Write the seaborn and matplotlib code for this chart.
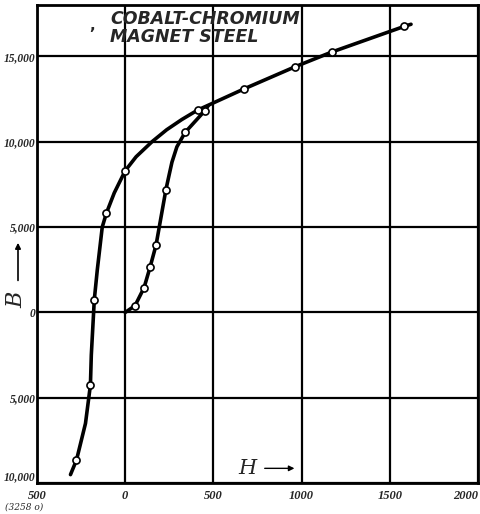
import matplotlib
matplotlib.use("Agg")
import matplotlib.pyplot as plt
from matplotlib.patches import FancyArrowPatch
import seaborn as sns
import pandas as pd

# Descending (demagnetising) branch: traced curve, from saturation down
desc_H = [1620, 1580, 1170, 965, 675, 410, 321, 235, 152, 62, 0, -62, -107, -130, -158, -175, -192, -197, -225, -276, -310]
desc_B = [16880, 16750, 15250, 14400, 13100, 11850, 11300, 10700, 10000, 9120, 8300, 7000, 5800, 5000, 2500, 750, -2500, -4250, -6500, -8650, -9500]

# Initial magnetisation curve, from the origin up to where it meets the loop
init_H = [0, 56, 107, 141, 175, 231, 250, 265, 293, 340, 450, 470]
init_B = [0, 400, 1450, 2650, 3950, 7200, 8100, 8800, 9700, 10550, 11800, 12100]

# Observed points (open circles)
obs_desc_H = [1580, 1170, 965, 675, 410, 0, -107, -175, -197, -276]
obs_desc_B = [16750, 15250, 14400, 13100, 11850, 8300, 5800, 750, -4250, -8650]
obs_init_H = [56, 107, 141, 175, 231, 340, 450]
obs_init_B = [400, 1450, 2650, 3950, 7200, 10550, 11800]

x_ticks = [-500, 0, 500, 1000, 1500, 2000]
x_tick_labels = ["500", "0", "500", "1000", "1500", "2000"]
y_ticks = [-10000, -5000, 0, 5000, 10000, 15000]
y_tick_labels = ["10,000", "5,000", "0", "5,000", "10,000", "15,000"]

sns.set_style("white")

fig = plt.figure(figsize=(4.8, 5.14), dpi=100)
ax = fig.add_axes([0.077, 0.060, 0.919, 0.930])

desc = pd.DataFrame({"H": desc_H, "B": desc_B})
init = pd.DataFrame({"H": init_H, "B": init_B})
obs = pd.DataFrame({"H": obs_desc_H + obs_init_H, "B": obs_desc_B + obs_init_B})

for x in x_ticks:
    ax.axvline(x, color="black", lw=1.6, zorder=1)
for y in y_ticks:
    ax.axhline(y, color="black", lw=1.6, zorder=1)

sns.lineplot(data=desc, x="H", y="B", sort=False, estimator=None, color="black", lw=2.6, ax=ax, zorder=3)
sns.lineplot(data=init, x="H", y="B", sort=False, estimator=None, color="black", lw=2.6, ax=ax, zorder=3)
sns.scatterplot(data=obs, x="H", y="B", marker="o", s=26, facecolor="white", edgecolor="black", linewidth=1.2, ax=ax, zorder=4)

ax.set_xlim(-500, 2000)
ax.set_ylim(-10000, 18000)
ax.set_xticks(x_ticks)
ax.set_xticklabels(x_tick_labels, fontfamily="Liberation Serif", fontstyle="italic", fontweight="bold", fontsize=9)
ax.get_xticklabels()[-1].set_horizontalalignment("right")
ax.set_yticks(y_ticks)
ax.set_yticklabels(y_tick_labels, fontfamily="Liberation Serif", fontstyle="italic", fontweight="bold", fontsize=8.3)
ax.get_yticklabels()[0].set_verticalalignment("bottom")
ax.tick_params(axis="x", length=0, pad=5)
ax.tick_params(axis="y", length=0, pad=1)
ax.set_xlabel("")
ax.set_ylabel("")
for s in ax.spines.values():
    s.set_visible(True)
    s.set_color("black")
    s.set_linewidth(2.0)

ax.text(0.166, 0.99, "COBALT-CHROMIUM\nMAGNET STEEL", transform=ax.transAxes, ha="left", va="top",
        fontsize=12.5, fontweight="bold", fontstyle="oblique", fontfamily="DejaVu Sans", linespacing=1.0)
ax.text(0.125, 0.958, ",", transform=ax.transAxes, ha="center", va="center", fontsize=11, fontweight="bold")

ax.text(0.478, 0.031, "H", transform=ax.transAxes, ha="center", va="center",
        fontsize=15, fontstyle="italic", fontfamily="DejaVu Serif")
ax.annotate("", xy=(0.59, 0.031), xytext=(0.51, 0.031), xycoords="axes fraction",
            arrowprops=dict(arrowstyle="-|>", color="black", lw=1.0, mutation_scale=8))

fig.text(0.035, 0.416, "B", rotation=90, ha="center", va="center",
         fontsize=16, fontstyle="italic", fontfamily="DejaVu Serif")
fig.add_artist(FancyArrowPatch((0.0375, 0.449), (0.0375, 0.533), transform=fig.transFigure,
                               arrowstyle="-|>", color="black", lw=1.2, mutation_scale=8))

fig.text(0.01, 0.004, "(3258 o)", ha="left", va="bottom", fontsize=6.5, fontstyle="italic", fontfamily="DejaVu Serif")

fig.savefig("out.png", dpi=100)
